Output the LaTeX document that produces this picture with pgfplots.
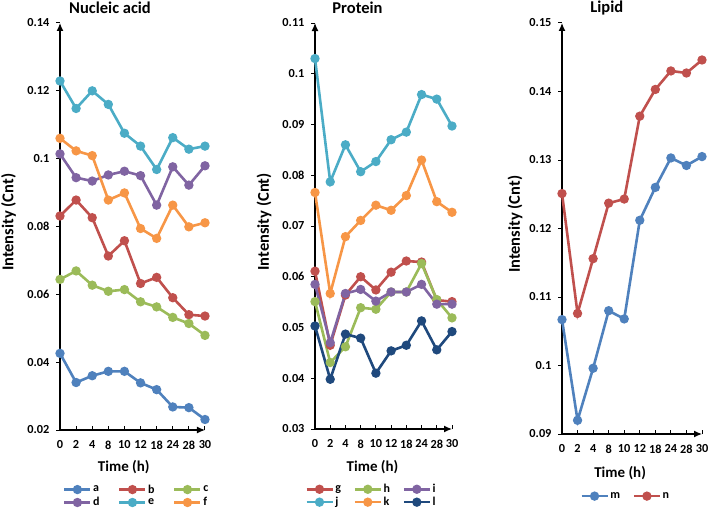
\documentclass[border=0pt]{standalone}
\usepackage{pgfplots}
\usepackage{pgfplotstable}
\pgfplotsset{compat=1.18}
\usepackage{fontspec}
\setmainfont{Carlito}
\usetikzlibrary{arrows.meta}
\definecolor{cA}{RGB}{79,129,189}
\definecolor{cB}{RGB}{192,80,77}
\definecolor{cC}{RGB}{155,187,89}
\definecolor{cD}{RGB}{128,100,162}
\definecolor{cE}{RGB}{75,172,198}
\definecolor{cF}{RGB}{247,150,70}
\definecolor{cL}{RGB}{31,73,125}

\pgfplotstableread{
t a b c d e f
0 0.0426 0.0831 0.0644 0.1014 0.1229 0.1060
1 0.0340 0.0878 0.0669 0.0944 0.1148 0.1023
2 0.0360 0.0826 0.0627 0.0934 0.1200 0.1009
3 0.0373 0.0713 0.0609 0.0952 0.1160 0.0878
4 0.0373 0.0758 0.0614 0.0963 0.1075 0.0899
5 0.0339 0.0632 0.0578 0.0950 0.1037 0.0794
6 0.0319 0.0650 0.0563 0.0863 0.0968 0.0765
7 0.0268 0.0590 0.0532 0.0976 0.1062 0.0863
8 0.0266 0.0540 0.0514 0.0922 0.1028 0.0799
9 0.0231 0.0536 0.0479 0.0979 0.1037 0.0811
}\nucleic

\pgfplotstableread{
t g h i j k l
0 0.0611 0.0551 0.0585 0.1030 0.0766 0.0503
1 0.0465 0.0431 0.0470 0.0787 0.0567 0.0398
2 0.0564 0.0462 0.0567 0.0860 0.0679 0.0487
3 0.0600 0.0539 0.0575 0.0807 0.0711 0.0479
4 0.0574 0.0536 0.0552 0.0827 0.0741 0.0410
5 0.0609 0.0570 0.0570 0.0870 0.0731 0.0454
6 0.0631 0.0570 0.0570 0.0885 0.0760 0.0465
7 0.0629 0.0626 0.0585 0.0959 0.0830 0.0513
8 0.0554 0.0555 0.0546 0.0950 0.0748 0.0456
9 0.0551 0.0519 0.0546 0.0897 0.0727 0.0492
}\protein

\pgfplotstableread{
t m n
0 0.1067 0.1251
1 0.0920 0.1076
2 0.0996 0.1156
3 0.1080 0.1237
4 0.1068 0.1243
5 0.1212 0.1364
6 0.1260 0.1403
7 0.1303 0.1430
8 0.1292 0.1427
9 0.1305 0.1446
}\lipid

\pgfplotsset{
  panel/.style={
    scale only axis,
    axis lines=left,
    axis line style={line width=1.3pt, -{Latex[length=8pt,width=7pt]}},
    xmin=0, xmax=9,
    xtick={0,...,9},
    xticklabels={0,2,4,8,10,12,18,24,28,30},
    xtick align=inside, ytick align=outside,
    major tick length=4pt,
    tick style={black, line width=1pt},
    tick label style={font=\bfseries\fontsize{12.3}{13}\selectfont},
    xticklabel style={yshift=-7pt},
    yticklabel style={xshift=-3pt},
    every axis plot/.append style={line width=2.6pt, mark=*, mark size=3.3pt},
    xlabel={Time (h)},
    ylabel={Intensity (Cnt)},
    xlabel style={font=\bfseries\fontsize{15}{17}\selectfont, anchor=center},
    ylabel style={font=\bfseries\fontsize{16.5}{18}\selectfont, anchor=center},
    title style={font=\bfseries\fontsize{16.5}{18}\selectfont, anchor=center},
    legend style={draw=none, fill=none, inner sep=0pt, anchor=north west,
      font=\bfseries\fontsize{12}{13}\selectfont, cells={anchor=west}, row sep=0pt,
      nodes={inner sep=1.5pt}},
    legend image code/.code={\draw[mark repeat=2,mark phase=2] plot coordinates {(0pt,0pt) (13pt,0pt) (26pt,0pt)};},
    clip=false,
  }
}

\begin{document}
\begin{tikzpicture}
\path[use as bounding box] (0,0) rectangle (709pt,512pt);

% Nucleic acid
\begin{axis}[panel,
  at={(60pt,82pt)}, anchor=south west,
  width=145pt, height=407pt,
  ymin=0.02, ymax=0.14,
  ytick={0.02,0.04,0.06,0.08,0.1,0.12,0.14},
  yticklabels={0.02,0.04,0.06,0.08,0.1,0.12,0.14},
  title={Nucleic acid},
  title style={at={(axis description cs:0.345,1)}, yshift=9.5pt},
  xlabel style={at={(axis description cs:0.44,0)}, yshift=-36.7pt},
  ylabel style={at={(axis description cs:-0.355,0.51)}},
  legend columns=3,
  legend style={at={(axis description cs:0.02,-0.13)}, /tikz/every even column/.append style={column sep=17pt}},
]
\addplot[color=cA] table[x=t,y=a] {\nucleic};
\addplot[color=cB] table[x=t,y=b] {\nucleic};
\addplot[color=cC] table[x=t,y=c] {\nucleic};
\addplot[color=cD] table[x=t,y=d] {\nucleic};
\addplot[color=cE] table[x=t,y=e] {\nucleic};
\addplot[color=cF] table[x=t,y=f] {\nucleic};
\legend{a,b,c,d,e,f}
\end{axis}

% Protein
\begin{axis}[panel,
  at={(315pt,83pt)}, anchor=south west,
  width=137pt, height=406pt,
  ymin=0.03, ymax=0.11,
  ytick={0.03,0.04,0.05,0.06,0.07,0.08,0.09,0.1,0.11},
  yticklabels={0.03,0.04,0.05,0.06,0.07,0.08,0.09,0.1,0.11},
  title={Protein},
  title style={at={(axis description cs:0.31,1)}, yshift=9.5pt},
  xlabel style={at={(axis description cs:0.42,0)}, yshift=-37.7pt},
  ylabel style={at={(axis description cs:-0.372,0.51)}},
  legend columns=3,
  legend style={at={(axis description cs:-0.073,-0.132)}, /tikz/every even column/.append style={column sep=11pt}},
]
\addplot[color=cB] table[x=t,y=g] {\protein};
\addplot[color=cC] table[x=t,y=h] {\protein};
\addplot[color=cD] table[x=t,y=i] {\protein};
\addplot[color=cE] table[x=t,y=j] {\protein};
\addplot[color=cF] table[x=t,y=k] {\protein};
\addplot[color=cL] table[x=t,y=l] {\protein};
\legend{g,h,i,j,k,l}
\end{axis}

% Lipid
\begin{axis}[panel,
  at={(562pt,78pt)}, anchor=south west,
  width=140pt, height=411pt,
  ymin=0.09, ymax=0.15,
  ytick={0.09,0.1,0.11,0.12,0.13,0.14,0.15},
  yticklabels={0.09,0.1,0.11,0.12,0.13,0.14,0.15},
  title={Lipid},
  title style={at={(axis description cs:0.32,1)}, yshift=8.5pt},
  xlabel style={at={(axis description cs:0.415,0)}, yshift=-38.7pt},
  ylabel style={at={(axis description cs:-0.336,0.51)}},
  legend columns=2,
  legend style={at={(axis description cs:0.129,-0.138)}, /tikz/every even column/.append style={column sep=11pt}},
]
\addplot[color=cA] table[x=t,y=m] {\lipid};
\addplot[color=cB] table[x=t,y=n] {\lipid};
\legend{m,n}
\end{axis}
\end{tikzpicture}
\end{document}
